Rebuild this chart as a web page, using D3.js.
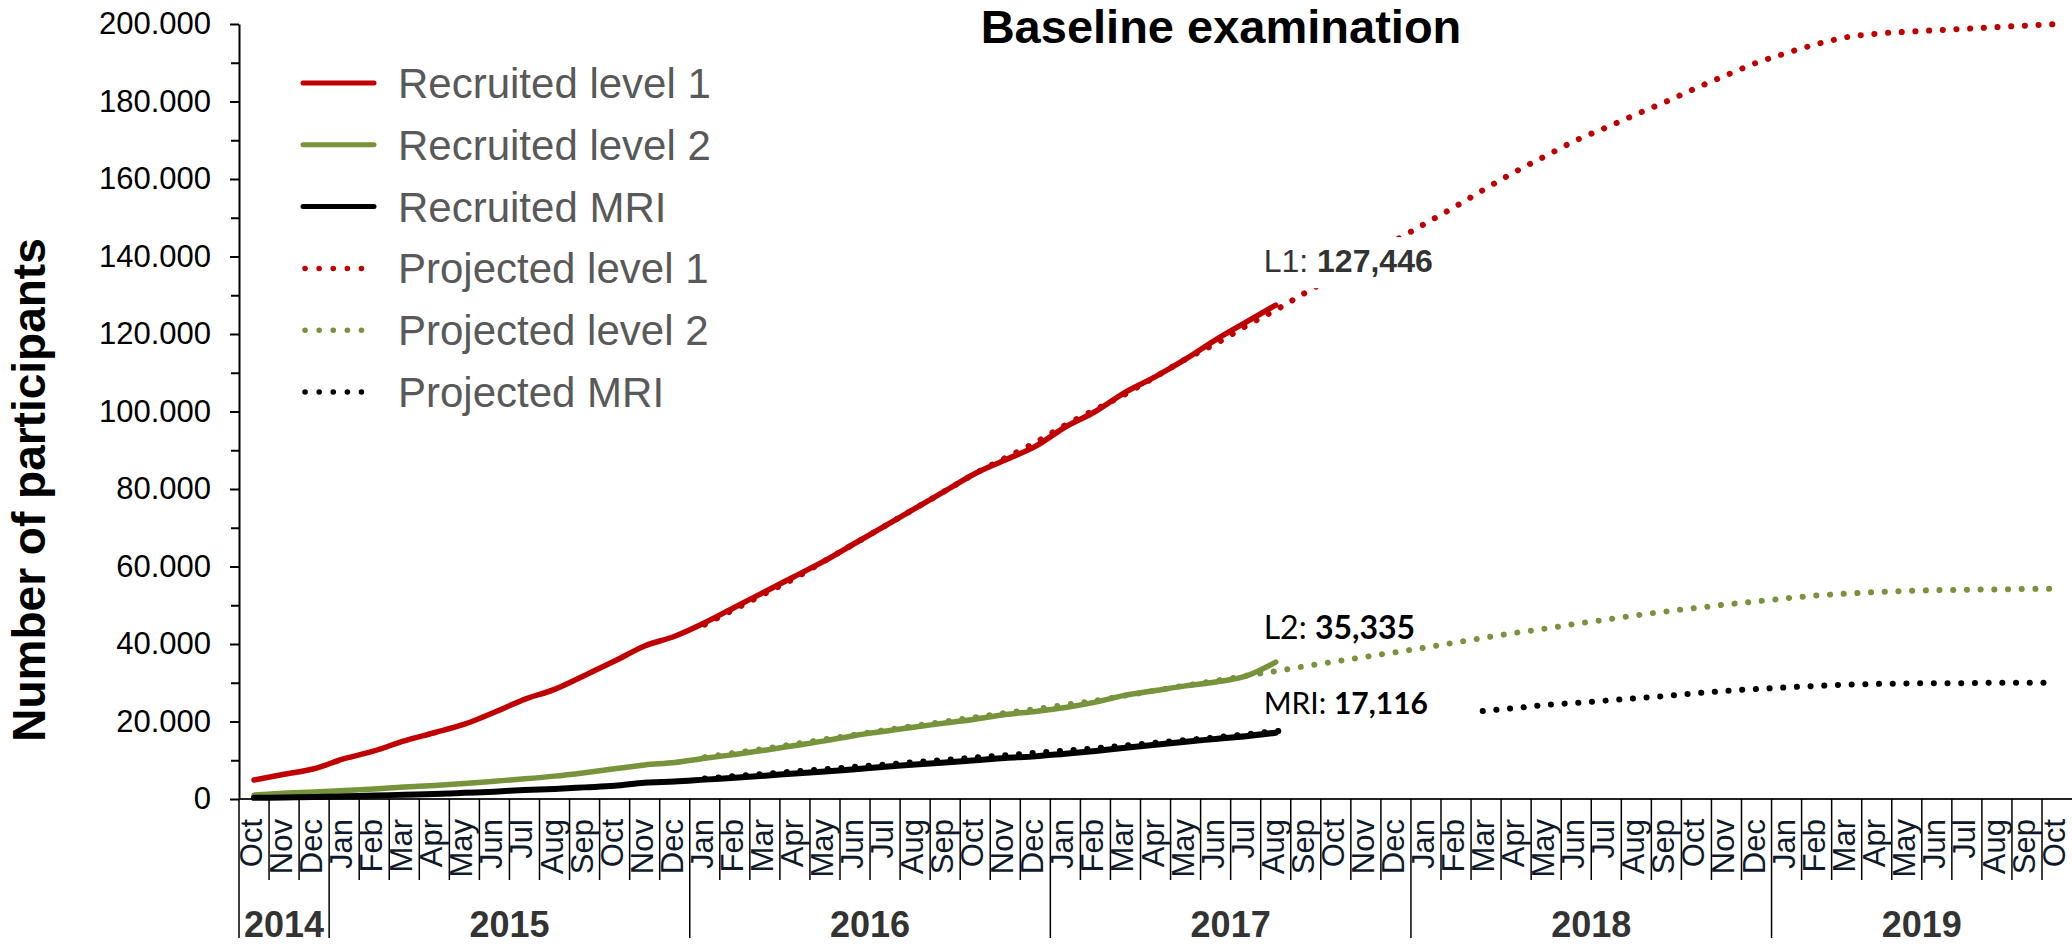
<!DOCTYPE html>
<html>
<head>
<meta charset="utf-8">
<script src="https://cdn.jsdelivr.net/npm/d3@7"></script>
<style>
  body { margin: 0; background: #fff; }
  svg { display: block; font-family: "Liberation Sans", Arial, sans-serif; }
</style>
</head>
<body>
<div id="container"></div>
<script>
/* CONSTANTS AND GLOBALS */
const width = 2072, height = 946;
const margin = {top: 24, left: 239, axisY: 799};
const monthW = 30.05;

/* DATA */
const monthNames = ["Jan","Feb","Mar","Apr","May","Jun","Jul","Aug","Sep","Oct","Nov","Dec"];
const firstYear = 2014, firstMonth = 9;   // Oct 2014
const monthCount = 61;                    // Oct 2014 .. Oct 2019
const yearLabels = ["2014","2015","2016","2017","2018","2019"];
const yMajor = [0,20000,40000,60000,80000,100000,120000,140000,160000,180000,200000];
const yMinor = [10000,30000,50000,70000,90000,110000,130000,150000,170000,190000];

// recruited, monthly from Oct 2014 to Aug 2017
const recruitedL1 = [4900,6400,7800,10400,12400,15000,17100,19300,22400,25700,28300,31900,35600,39500,42000,
  45500,49500,53500,57500,61500,66000,70500,75000,79500,84000,87500,91000,
  96000,100000,105000,109000,113500,118500,123000,127446];
const recruitedL2 = [1000,1500,1800,2200,2600,3100,3500,4000,4600,5200,5900,6800,7800,8800,9400,
  10500,11500,12600,13800,15000,16400,17500,18600,19600,20600,21800,22600,
  23600,25000,26800,28000,29200,30200,31700,35335];
const recruitedMRI = [300,400,500,700,900,1100,1300,1600,1900,2300,2600,3000,3400,4200,4500,
  5000,5500,6000,6600,7100,7700,8300,8900,9400,10000,10600,11000,
  11700,12400,13200,14000,14800,15500,16200,17116];

// projected, monthly from Jan 2016 to Oct 2019
const projectedStart = 15;
const projectedL1 = [45000,49000,53000,57000,61500,66000,70500,75000,79500,84000,88000,92000,
  96500,100500,104500,109000,113500,117500,122000,126200,
  130700,135200,139700,144200,148600,153000,157600,162000,166000,170000,173300,176700,180000,183500,186800,190000,
  192500,194800,196600,197500,198000,198400,198800,199200,199600,200000];
const projectedL2 = [10800,11900,13000,14200,15400,16600,17800,18900,20000,21100,22200,23200,
  24300,25400,26700,28000,29300,30500,31800,33000,
  34300,35500,36700,37900,39100,40400,41700,42900,44000,45200,46300,47400,48400,49300,50200,51000,
  51800,52500,53000,53400,53700,53900,54000,54100,54200,54300];
const projectedMRI = [5300,5900,6500,7100,7700,8300,8900,9500,10100,10700,11300,11900,
  12500,13100,13800,14500,15200,15900,16700,17500,
  18300,19000,19700,20500,21300,22100,22800,23500,24300,24800,25400,26000,26600,27300,27900,28400,
  28800,29200,29500,29700,29800,29900,29900,30000,30000,30000];

const seriesNames = ["Recruited level 1","Recruited level 2","Recruited MRI",
                     "Projected level 1","Projected level 2","Projected MRI"];
const endLabels = [
  {name: "L1: ", value: 127446},
  {name: "L2: ", value: 35335},
  {name: "MRI: ", value: 17116}
];

const colors = {l1: "#C00000", l2: "#77933C", mri: "#000000"};

/* BUILD CATEGORIES */
const months = d3.range(monthCount).map(i => {
  const m = (firstMonth + i) % 12;
  return {i: i, label: monthNames[m], year: firstYear + Math.floor((firstMonth + i) / 12), month: m};
});

/* SCALES */
const xScale = d3.scaleBand()
  .domain(d3.range(monthCount))
  .range([margin.left, margin.left + monthCount * monthW])
  .padding(0);
const cx = i => xScale(i) + xScale.bandwidth() / 2;

const yScale = d3.scaleLinear()
  .domain([0, 200000])
  .range([margin.axisY, margin.top]);

const fmt = d3.formatLocale({decimal: ",", thousands: ".", grouping: [3], currency: ["", ""]}).format(",");

/* SVG */
const svg = d3.select("#container").append("svg")
  .attr("width", width)
  .attr("height", height);

// title
svg.append("text")
  .attr("x", 1221).attr("y", 43)
  .attr("text-anchor", "middle")
  .attr("font-size", 47).attr("font-weight", "bold")
  .text("Baseline examination");

// y axis title
svg.append("text")
  .attr("transform", "translate(45,490) rotate(-90)")
  .attr("text-anchor", "middle")
  .attr("font-size", 46).attr("font-weight", "bold")
  .text("Number of participants");

// + Y AXIS
const yAxisG = svg.append("g")
  .attr("transform", `translate(${margin.left},0)`)
  .call(d3.axisLeft(yScale).tickValues(yMajor).tickFormat(fmt).tickSize(9).tickSizeOuter(0).tickPadding(19));
yAxisG.select(".domain").attr("stroke", "#000").attr("stroke-width", 2);
yAxisG.selectAll(".tick line").attr("stroke", "#000").attr("stroke-width", 2);
yAxisG.selectAll(".tick text").attr("font-size", 31).attr("fill", "#000")
  .attr("font-family", '"Liberation Sans", Arial, sans-serif');

const yMinorG = svg.append("g")
  .attr("transform", `translate(${margin.left},0)`)
  .call(d3.axisLeft(yScale).tickValues(yMinor).tickFormat("").tickSize(8).tickSizeOuter(0));
yMinorG.select(".domain").remove();
yMinorG.selectAll(".tick line").attr("stroke", "#000").attr("stroke-width", 2);

// + X AXIS (month categories with year groups)
svg.append("line")
  .attr("x1", margin.left).attr("x2", width)
  .attr("y1", margin.axisY).attr("y2", margin.axisY)
  .attr("stroke", "#222").attr("stroke-width", 2);

svg.append("g").selectAll("line")
  .data(months)
  .join("line")
  .attr("x1", d => xScale(d.i)).attr("x2", d => xScale(d.i))
  .attr("y1", margin.axisY)
  .attr("y2", d => (d.i === 0 || d.month === 0) ? 938 : 880)
  .attr("stroke", "#000").attr("stroke-width", 1.5);

svg.append("g").selectAll("text")
  .data(months)
  .join("text")
  .attr("transform", d => `translate(${cx(d.i) + 8},819) rotate(-90)`)
  .attr("text-anchor", "end")
  .attr("font-size", 31)
  .attr("fill", "#0f1a2a")
  .text(d => d.label);

const yearSpans = yearLabels.map(yr => {
  const ms = months.filter(m => m.year === +yr);
  return {label: yr, x0: xScale(ms[0].i), x1: xScale(ms[ms.length - 1].i) + xScale.bandwidth()};
});
svg.append("g").selectAll("text")
  .data(yearSpans)
  .join("text")
  .attr("x", d => (d.x0 + Math.min(d.x1, width)) / 2)
  .attr("y", 937)
  .attr("text-anchor", "middle")
  .attr("font-size", 36).attr("font-weight", "bold")
  .attr("fill", "#333")
  .text(d => d.label);

/* LINES */
const line = d3.line()
  .x(d => cx(d.i))
  .y(d => yScale(d.v))
  .curve(d3.curveMonotoneX);

const toPts = (arr, start) => arr.map((v, k) => ({i: start + k, v: v}));

const projected = [
  {data: toPts(projectedL1, projectedStart), color: colors.l1},
  {data: toPts(projectedL2, projectedStart), color: colors.l2},
  {data: toPts(projectedMRI, projectedStart), color: colors.mri}
];
const recruited = [
  {data: toPts(recruitedL1, 0), color: colors.l1, w: 5.5},
  {data: toPts(recruitedL2, 0), color: colors.l2, w: 5.5},
  {data: toPts(recruitedMRI, 0), color: colors.mri, w: 6}
];

svg.append("g").selectAll("path")
  .data(projected)
  .join("path")
  .attr("d", d => line(d.data))
  .attr("fill", "none")
  .attr("stroke", d => d.color)
  .attr("stroke-width", 6)
  .attr("stroke-linecap", "round")
  .attr("stroke-dasharray", "0.1 13.6");

svg.append("g").selectAll("path")
  .data(recruited)
  .join("path")
  .attr("d", d => line(d.data))
  .attr("fill", "none")
  .attr("stroke", d => d.color)
  .attr("stroke-width", d => d.w)
  .attr("stroke-linecap", "round")
  .attr("stroke-linejoin", "round");

/* END LABELS with white boxes */
const lx = xScale(recruitedL1.length - 1) + 3;
// L1
svg.append("rect")
  .attr("x", lx - 4).attr("y", yScale(endLabels[0].value) - 68)
  .attr("width", 178).attr("height", 51).attr("fill", "#fff");
// MRI
svg.append("rect")
  .attr("x", lx + 23).attr("y", yScale(endLabels[2].value) - 43)
  .attr("width", 187).attr("height", 48).attr("fill", "#fff");

const l1 = svg.append("text")
  .attr("x", lx).attr("y", yScale(endLabels[0].value) - 33)
  .attr("font-size", 32).attr("fill", "#333");
l1.append("tspan").text(endLabels[0].name);
l1.append("tspan").attr("font-weight", "bold").text(d3.format(",")(endLabels[0].value));

const l2 = svg.append("text")
  .attr("x", lx).attr("y", yScale(endLabels[1].value) - 23)
  .attr("font-size", 32).attr("fill", "#000")
  .attr("font-family", "Lato, sans-serif");
l2.append("tspan").text(endLabels[1].name);
l2.append("tspan").attr("font-weight", "bold").text(d3.format(",")(endLabels[1].value));

const l3 = svg.append("text")
  .attr("x", lx).attr("y", yScale(endLabels[2].value) - 19)
  .attr("font-size", 30).attr("fill", "#000")
  .attr("font-family", "Lato, sans-serif");
l3.append("tspan").text(endLabels[2].name);
l3.append("tspan").attr("font-weight", "bold").text(d3.format(",")(endLabels[2].value));

/* LEGEND */
const legendColors = [colors.l1, colors.l2, colors.mri, colors.l1, colors.l2, colors.mri];
const legend = svg.append("g").selectAll("g")
  .data(seriesNames)
  .join("g")
  .attr("transform", (d, i) => `translate(303,${83 + i * 61.8})`);

legend.append("line")
  .attr("x1", d => d.startsWith("Projected") ? 2 : 0)
  .attr("x2", d => d.startsWith("Projected") ? 59 : 71)
  .attr("stroke", (d, i) => legendColors[i])
  .attr("stroke-width", d => d.startsWith("Projected") ? 5.5 : 5)
  .attr("stroke-linecap", "round")
  .attr("stroke-dasharray", d => d.startsWith("Projected") ? "0.1 14" : null);

legend.append("text")
  .attr("x", 95).attr("y", 15)
  .attr("font-size", 42)
  .attr("fill", "#595959")
  .text(d => d);
</script>
</body>
</html>
